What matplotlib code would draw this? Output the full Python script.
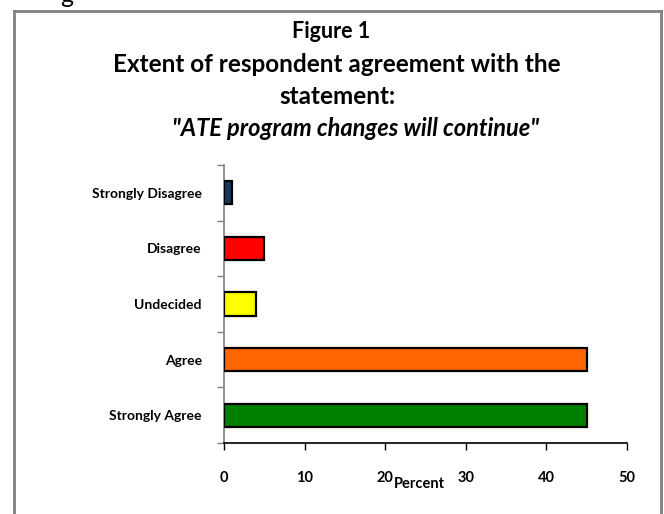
import matplotlib
matplotlib.use("Agg")
import numpy as np
import matplotlib.pyplot as plt
from matplotlib.lines import Line2D

# data, bottom to top as drawn
categories = ["Strongly Agree", "Agree", "Undecided", "Disagree", "Strongly Disagree"]
percent = [45, 45, 4, 5, 1]
bar_colors = ["#008000", "#FF6600", "#FFFF00", "#FF0000", "#17375E"]
x_ticks = [0, 10, 20, 30, 40, 50]

plt.rcParams['font.family'] = ['Lato', 'DejaVu Sans']

W, H = 664, 514
fig = plt.figure(figsize=(W / 100, H / 100), dpi=100)

# gray frame around the chart (open at the bottom, cropped)
fx = lambda p: p / W
fy = lambda p: 1 - p / H
frame_kw = dict(color="#808080", lw=2.0, transform=fig.transFigure)
fig.add_artist(Line2D([fx(14), fx(14)], [fy(11), -0.01], **frame_kw))
fig.add_artist(Line2D([fx(14), fx(661)], [fy(11), fy(11)], **frame_kw))
fig.add_artist(Line2D([fx(661), fx(661)], [fy(11), -0.01], **frame_kw))

# cropped descender of the text line above the figure
fig.text(fx(67), fy(3), "g", ha="center", va="baseline", fontsize=18)

# titles
cx = fx(337)
fig.text(fx(331), fy(32), "Figure 1", ha="center", va="center", fontsize=15.5, fontweight="bold")
fig.text(cx, fy(65), "Extent of respondent agreement with the", ha="center", va="center",
         fontsize=17.5, fontweight="bold")
fig.text(cx, fy(96), "statement:", ha="center", va="center", fontsize=17.5, fontweight="bold")
fig.text(fx(356), fy(128), '"ATE program changes will continue"', ha="center", va="center",
         fontsize=17, fontweight="bold", style="italic")

ax = fig.add_axes([fx(224), fy(443), (627 - 224) / W, (443 - 165) / H])

y = np.arange(len(categories))
ax.barh(y, percent, height=0.42, color=bar_colors, edgecolor="black", linewidth=1.6, zorder=3)

ax.set_xlim(0, 50)
ax.set_ylim(-0.5, len(categories) - 0.5)
ax.set_xticks(x_ticks)
ax.set_xticklabels([str(t) for t in x_ticks], fontsize=10.5, fontweight="bold")
ax.set_yticks(y)
ax.set_yticklabels(categories, fontsize=10, fontweight="bold")
ax.set_yticks(np.arange(-0.5, len(categories)), minor=True)

ax.tick_params(axis="y", which="major", length=0, pad=16)
ax.tick_params(axis="y", which="minor", length=5, width=1, color="#808080")
ax.tick_params(axis="x", which="major", length=5, width=1, pad=15)

for s in ["top", "right"]:
    ax.spines[s].set_visible(False)
ax.spines["left"].set_color("#808080")
ax.spines["left"].set_linewidth(1.2)
ax.spines["bottom"].set_linewidth(1.2)

ax.set_xlabel("Percent", fontsize=10.5, fontweight="bold")
ax.xaxis.set_label_coords((419 - 224) / (627 - 224), -(477 - 443) / (443 - 165))

plt.savefig("out.png", dpi=100)
plt.close()
